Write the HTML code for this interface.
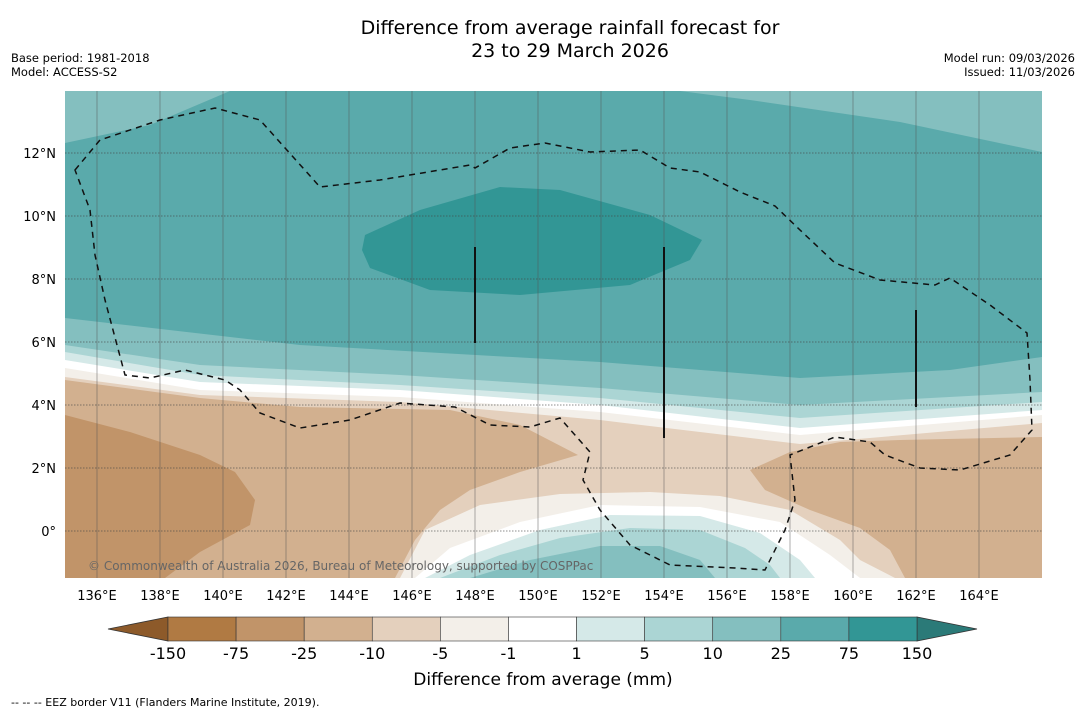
<!DOCTYPE html>
<html><head><meta charset="utf-8">
<style>
body{margin:0;background:#fff;width:1085px;height:713px;overflow:hidden;font-family:"Liberation Sans","DejaVu Sans",sans-serif;}
svg{position:absolute;left:0;top:0}
</style></head>
<body>
<svg width="1085" height="713" viewBox="0 0 1085 713" font-family="DejaVu Sans, Liberation Sans, sans-serif">
<text x="570" y="34" text-anchor="middle" font-size="19">Difference from average rainfall forecast for</text>
<text x="570" y="57" text-anchor="middle" font-size="19">23 to 29 March 2026</text>
<text x="11" y="62" font-size="11.5">Base period: 1981-2018</text>
<text x="11" y="76" font-size="11.5">Model: ACCESS-S2</text>
<text x="1075" y="62" font-size="11.5" text-anchor="end">Model run: 09/03/2026</text>
<text x="1075" y="76" font-size="11.5" text-anchor="end">Issued: 11/03/2026</text>

<defs><clipPath id="mapclip"><rect x="65" y="91" width="977" height="487"/></clipPath></defs>
<g clip-path="url(#mapclip)">
<rect x="65" y="91" width="977" height="487" fill="#84bfbf"/>
<polygon fill="#5aaaab" points="65,143 150,125 230,91 680,91 750,100 900,122 1042,152 1042,357 950,370 800,378 600,362 300,345 65,318"/>
<polygon fill="#329695" points="365,235 420,210 500,187 560,190 650,215 702,240 690,260 630,285 520,295 430,290 370,268 362,250"/>
<polygon fill="#abd5d4" points="65,345 200,365 400,375 600,388 800,405 1042,392 1042,578 65,578"/>
<polygon fill="#d5e9e8" points="65,352 200,375 400,385 600,398 800,418 1042,402 1042,578 65,578"/>
<polygon fill="#ffffff" points="65,360 200,382 400,390 600,405 800,428 1042,410 1042,578 65,578"/>
<polygon fill="#f3efe9" points="65,368 200,390 400,397 600,412 800,435 1042,415 1042,578 65,578"/>
<polygon fill="#e4d0bd" points="65,377 200,395 400,402 600,420 800,444 1042,423 1042,578 65,578"/>
<polygon fill="#d2b08f" points="65,380 200,398 300,407 450,410 520,425 578,455 520,472 470,490 440,510 415,540 395,578 65,578"/>
<polygon fill="#d2b08f" points="1042,437 900,440 840,442 790,452 750,470 765,490 810,510 860,528 890,550 905,578 1042,578"/>
<polygon fill="#c19469" points="65,415 130,432 200,455 235,472 255,500 250,525 200,552 165,578 65,578"/>
<polygon fill="#f3efe9" points="400,578 425,530 480,505 560,494 650,492 720,496 790,510 840,540 860,560 895,578"/>
<polygon fill="#ffffff" points="415,578 450,548 520,522 600,505 700,507 780,522 830,555 860,578"/>
<polygon fill="#d5e9e8" points="425,578 470,555 540,530 610,515 700,516 760,533 800,560 815,578"/>
<polygon fill="#abd5d4" points="440,578 500,555 560,538 630,528 700,530 745,548 770,565 780,578"/>
<polygon fill="#84bfbf" points="470,578 530,560 600,546 660,546 700,560 715,578"/>
<g stroke-width="0.8">
<g stroke="#555" stroke-opacity="0.6">
<line x1="97" y1="91" x2="97" y2="578"/><line x1="160" y1="91" x2="160" y2="578"/><line x1="223" y1="91" x2="223" y2="578"/><line x1="286" y1="91" x2="286" y2="578"/><line x1="349" y1="91" x2="349" y2="578"/><line x1="412" y1="91" x2="412" y2="578"/><line x1="475" y1="91" x2="475" y2="578"/><line x1="538" y1="91" x2="538" y2="578"/><line x1="601" y1="91" x2="601" y2="578"/><line x1="664" y1="91" x2="664" y2="578"/><line x1="727" y1="91" x2="727" y2="578"/><line x1="790" y1="91" x2="790" y2="578"/><line x1="853" y1="91" x2="853" y2="578"/><line x1="916" y1="91" x2="916" y2="578"/><line x1="979" y1="91" x2="979" y2="578"/>
</g>
<g stroke="#444" stroke-dasharray="1.5,1.5" stroke-opacity="0.8">
<line x1="65" y1="153" x2="1042" y2="153"/><line x1="65" y1="216" x2="1042" y2="216"/><line x1="65" y1="279" x2="1042" y2="279"/><line x1="65" y1="342" x2="1042" y2="342"/><line x1="65" y1="405" x2="1042" y2="405"/><line x1="65" y1="468" x2="1042" y2="468"/><line x1="65" y1="531" x2="1042" y2="531"/>
</g></g>
<g stroke="#111" stroke-width="2">
<line x1="475" y1="247" x2="475" y2="343"/><line x1="664" y1="247" x2="664" y2="438"/><line x1="916" y1="310" x2="916" y2="407"/>
</g>
<polygon fill="none" stroke="#111" stroke-width="1.5" stroke-dasharray="6,5" points="75,170 100,140 160,120 215,108 260,120 320,187 380,180 470,165 475,168 510,148 545,143 590,152 640,150 670,168 700,172 740,192 775,206 800,230 835,263 880,280 935,285 950,278 990,305 1027,333 1030,380 1032,430 1010,455 960,470 920,468 885,455 870,442 835,437 790,455 795,500 785,530 765,570 735,568 670,565 630,545 600,510 583,480 590,452 560,418 530,427 490,425 455,407 400,403 350,420 300,428 260,413 240,390 225,380 185,370 150,378 125,375 105,300 95,255 90,210"/>
<text x="88" y="570" font-size="12" fill="#666">© Commonwealth of Australia 2026, Bureau of Meteorology, supported by COSPPac</text>
</g>
<g font-size="13" text-anchor="middle" id="xlab"></g>
<g font-size="13" text-anchor="end" id="ylab"></g>
<g id="cbar"></g>
<text x="543" y="685" text-anchor="middle" font-size="17">Difference from average (mm)</text>
<text x="11" y="706" font-size="11">--  --  -- EEZ border V11 (Flanders Marine Institute, 2019).</text>
</svg>
<script>
const lonTicks=[136,138,140,142,144,146,148,150,152,154,156,158,160,162,164];
const latTicks=[12,10,8,6,4,2,0];
const levelLabels=["-150","-75","-25","-10","-5","-1","1","5","10","25","75","150"];
const levelColors=["#b07a43","#c19469","#d2b08f","#e4d0bd","#f3efe9","#ffffff","#d5e9e8","#abd5d4","#84bfbf","#5aaaab","#329695"];
const extendColors=["#8d5a2a","#2b7a78"];
const NS="http://www.w3.org/2000/svg";
const xOf=lon=>97+(lon-136)*31.5;
const yOf=lat=>531-lat*31.5;
function mk(tag,attrs,parent){const e=document.createElementNS(NS,tag);for(const k in attrs)e.setAttribute(k,attrs[k]);parent.appendChild(e);return e;}
const xl=document.getElementById('xlab');
lonTicks.forEach(l=>{const t=mk('text',{x:xOf(l),y:600},xl);t.textContent=l+'°E';

});
const yl=document.getElementById('ylab');
latTicks.forEach(l=>{const t=mk('text',{x:56,y:yOf(l)+5},yl);t.textContent=l===0?'0°':l+'°N';

});
const cb=document.getElementById('cbar');
const x0=168,x1=917,y0=617,h=24,w=(x1-x0)/levelColors.length;
let tl=mk('polygon',{points:`${x0},${y0} ${x0},${y0+h} 108,${y0+h/2}`,fill:extendColors[0],stroke:'#333','stroke-width':0.8},cb);


let tr=mk('polygon',{points:`${x1},${y0} ${x1},${y0+h} 977,${y0+h/2}`,fill:extendColors[1],stroke:'#333','stroke-width':0.8},cb);


levelColors.forEach((c,i)=>{const r=mk('rect',{x:x0+i*w,y:y0,width:w,height:h,fill:c,stroke:'#333','stroke-width':0.6},cb);

});
levelLabels.forEach((s,i)=>{const t=mk('text',{x:x0+i*w,y:659,'font-size':16,'text-anchor':'middle'},cb);t.textContent=s;

});
</script>
</body></html>
